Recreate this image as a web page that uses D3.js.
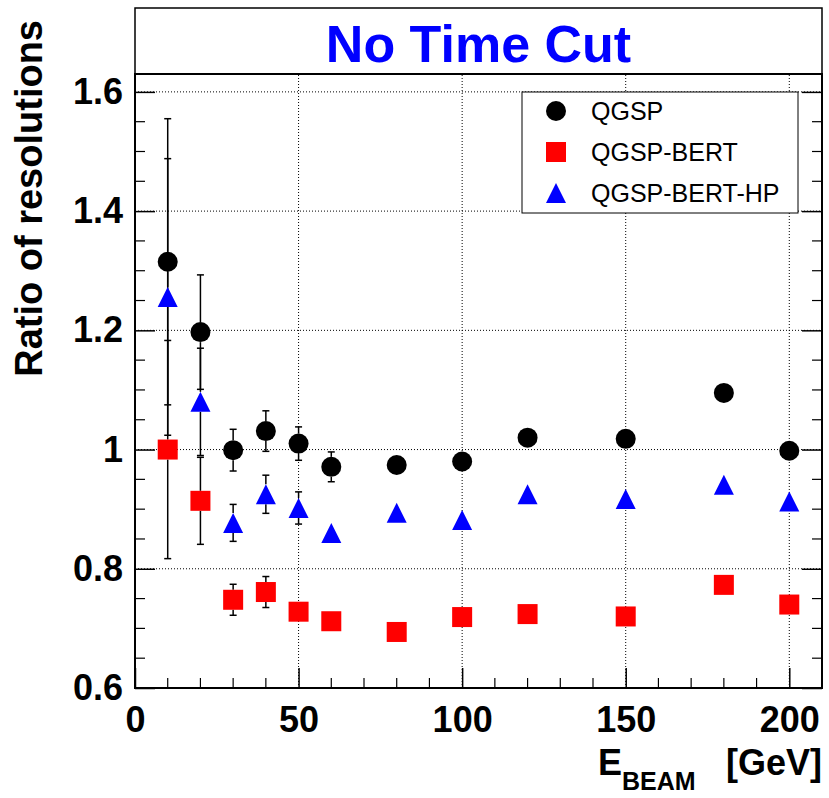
<!DOCTYPE html>
<html>
<head>
<meta charset="utf-8">
<script src="https://cdn.jsdelivr.net/npm/d3@7"></script>
<style>
  body { margin: 0; background: #fff; }
  svg text { font-family: "Liberation Sans", Arial, Helvetica, sans-serif; }
</style>
</head>
<body>
<svg class="ratio-chart" width="829" height="798"></svg>
<script>
const energies = [10, 20, 30, 40, 50, 60, 80, 100, 120, 150, 180, 200];

const qgsp = [1.315, 1.197, 0.999, 1.031, 1.010, 0.971, 0.974, 0.980, 1.020, 1.018, 1.095, 0.998];
const qgspErr = [0.240, 0.096, 0.035, 0.034, 0.028, 0.025, 0.012, 0.012, 0.012, 0.012, 0.012, 0.012];

const bert = [1.000, 0.914, 0.748, 0.761, 0.728, 0.712, 0.694, 0.719, 0.724, 0.720, 0.773, 0.740];
const bertErr = [0.183, 0.073, 0.026, 0.026, 0.012, 0.012, 0.012, 0.012, 0.012, 0.012, 0.012, 0.012];

const hp = [1.256, 1.080, 0.877, 0.925, 0.902, 0.860, 0.894, 0.882, 0.925, 0.917, 0.941, 0.913];
const hpErr = [0.232, 0.090, 0.031, 0.032, 0.027, 0.012, 0.012, 0.012, 0.012, 0.012, 0.012, 0.012];

const legendLabels = ["QGSP", "QGSP-BERT", "QGSP-BERT-HP"];
const xTicks = [0, 50, 100, 150, 200];
const yTicks = [0.6, 0.8, 1.0, 1.2, 1.4, 1.6];
const xDomain = [0, 210];
const yDomain = [0.6, 1.63];

ratioChart();

function ratioChart(margin = { top: 74, right: 7, bottom: 110, left: 135 }) {
  const svg = d3.select(".ratio-chart");
  const width = +svg.attr("width");
  const height = +svg.attr("height");
  const x0 = margin.left, x1 = width - margin.right;
  const y0 = height - margin.bottom, y1 = margin.top;

  const x = d3.scaleLinear().domain(xDomain).range([x0, x1]);
  const y = d3.scaleLinear().domain(yDomain).range([y0, y1]);

  // Title box
  svg.append("rect")
    .attr("x", x0).attr("y", 8)
    .attr("width", x1 - x0).attr("height", y1 - 8)
    .attr("fill", "#fff").attr("stroke", "#000").attr("stroke-width", 1.5);
  svg.append("text")
    .attr("x", (x0 + x1) / 2).attr("y", 62)
    .attr("text-anchor", "middle")
    .attr("font-size", 52).attr("font-weight", 700)
    .attr("fill", "#0000ff")
    .text("No Time Cut");

  // Grid
  const grid = svg.append("g").attr("stroke", "#000").attr("stroke-width", 1)
    .attr("stroke-dasharray", "1,2");
  xTicks.filter((d) => d > xDomain[0]).forEach((d) => {
    grid.append("line").attr("x1", x(d)).attr("x2", x(d)).attr("y1", y0).attr("y2", y1);
  });
  yTicks.filter((d) => d > yDomain[0]).forEach((d) => {
    grid.append("line").attr("x1", x0).attr("x2", x1).attr("y1", y(d)).attr("y2", y(d));
  });

  // Axes (ticks point into the frame)
  const tickFont = (g) => g.selectAll("text")
    .attr("font-size", 36).attr("font-weight", 700).attr("fill", "#000")
    .attr("font-family", "Liberation Sans, Arial, sans-serif");

  svg.append("g")
    .attr("transform", `translate(0,${y0})`)
    .call(d3.axisBottom(x).tickValues(xTicks).tickSize(-20).tickPadding(18).tickFormat(d3.format("d")))
    .call((g) => g.select(".domain").remove())
    .call((g) => g.selectAll("line").attr("stroke-width", 1.5))
    .call(tickFont);

  svg.append("g")
    .attr("transform", `translate(${x0},0)`)
    .call(d3.axisLeft(y).tickValues(yTicks).tickSize(-20).tickPadding(12).tickFormat((d) => (d === 1 ? "1" : d3.format(".1f")(d))))
    .call((g) => g.select(".domain").remove())
    .call((g) => g.selectAll("line").attr("stroke-width", 1.5))
    .call(tickFont);

  svg.append("g")
    .attr("transform", `translate(${x1},0)`)
    .call(d3.axisRight(y).tickValues(yTicks).tickSize(-20).tickFormat(""))
    .call((g) => g.select(".domain").remove())
    .call((g) => g.selectAll("line").attr("stroke-width", 1.5));

  // Minor ticks
  const minor = svg.append("g").attr("stroke", "#000").attr("stroke-width", 1.2);
  d3.range(10, 210, 10).filter((d) => d % 50 !== 0).forEach((d) => {
    minor.append("line").attr("x1", x(d)).attr("x2", x(d)).attr("y1", y0).attr("y2", y0 - 10);
  });
  d3.range(0.65, 1.63, 0.05).forEach((d) => {
    if (Math.abs(d * 5 - Math.round(d * 5)) < 1e-6) return;
    minor.append("line").attr("x1", x0).attr("x2", x0 + 10).attr("y1", y(d)).attr("y2", y(d));
    minor.append("line").attr("x1", x1).attr("x2", x1 - 10).attr("y1", y(d)).attr("y2", y(d));
  });

  // Frame
  svg.append("rect")
    .attr("x", x0).attr("y", y1)
    .attr("width", x1 - x0).attr("height", y0 - y1)
    .attr("fill", "none").attr("stroke", "#000").attr("stroke-width", 2);

  // Axis titles
  svg.append("text")
    .attr("transform", "translate(42,20) rotate(-90)")
    .attr("text-anchor", "end")
    .attr("font-size", 38).attr("font-weight", 700)
    .text("Ratio of resolutions");

  const xt = svg.append("text")
    .attr("x", 598).attr("y", 775)
    .attr("font-size", 36).attr("font-weight", 700);
  xt.append("tspan").text("E");
  xt.append("tspan").attr("font-size", 25).attr("dy", 15).text("BEAM");
  svg.append("text")
    .attr("x", x1).attr("y", 775)
    .attr("text-anchor", "end")
    .attr("font-size", 36).attr("font-weight", 700)
    .text("[GeV]");

  // Markers
  const r = 10;
  const markers = {
    circle: (g, cx, cy, c) => g.append("circle").attr("cx", cx).attr("cy", cy).attr("r", r).attr("fill", c),
    square: (g, cx, cy, c) => g.append("rect").attr("x", cx - r).attr("y", cy - r)
      .attr("width", 2 * r).attr("height", 2 * r).attr("fill", c),
    triangle: (g, cx, cy, c) => g.append("path")
      .attr("d", `M${cx - r},${cy + r}L${cx + r},${cy + r}L${cx},${cy - r}Z`).attr("fill", c),
  };

  const series = [
    { values: qgsp, errors: qgspErr, color: "#000000", shape: "circle" },
    { values: bert, errors: bertErr, color: "#ff0000", shape: "square" },
    { values: hp, errors: hpErr, color: "#0000ff", shape: "triangle" },
  ];

  series.forEach((s) => {
    const g = svg.append("g");
    energies.forEach((e, i) => {
      const cx = x(e), cy = y(s.values[i]);
      const top = y(s.values[i] + s.errors[i]);
      const bot = y(s.values[i] - s.errors[i]);
      const eb = g.append("g").attr("stroke", "#000").attr("stroke-width", 1.5);
      if (top < cy - r) {
        eb.append("line").attr("x1", cx).attr("x2", cx).attr("y1", cy - r).attr("y2", top);
        eb.append("line").attr("x1", cx - 3.5).attr("x2", cx + 3.5).attr("y1", top).attr("y2", top);
      }
      if (bot > cy + r) {
        eb.append("line").attr("x1", cx).attr("x2", cx).attr("y1", cy + r).attr("y2", bot);
        eb.append("line").attr("x1", cx - 3.5).attr("x2", cx + 3.5).attr("y1", bot).attr("y2", bot);
      }
      markers[s.shape](g, cx, cy, s.color);
    });
  });

  // Legend
  const lg = svg.append("g");
  lg.append("rect")
    .attr("x", 522).attr("y", 92).attr("width", 276).attr("height", 121)
    .attr("fill", "#fff").attr("stroke", "#000").attr("stroke-width", 1);
  series.forEach((s, i) => {
    const ly = 111 + i * 41;
    markers[s.shape](lg, 556, ly, s.color);
    lg.append("text")
      .attr("x", 591).attr("y", ly + 9)
      .attr("font-size", 25)
      .text(legendLabels[i]);
  });
}
</script>
</body>
</html>
